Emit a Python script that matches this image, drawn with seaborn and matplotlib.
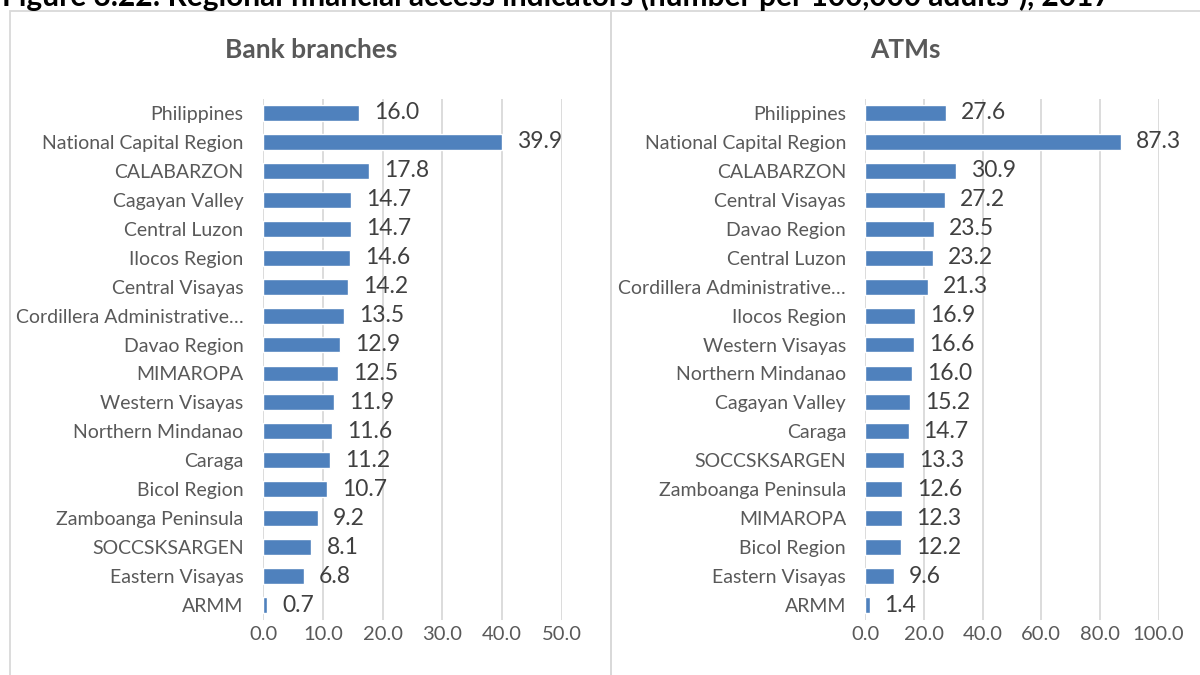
import matplotlib
matplotlib.use("Agg")
import matplotlib.pyplot as plt
import seaborn as sns
import pandas as pd
from matplotlib.patches import Rectangle

branch_regions = [
    "Philippines", "National Capital Region", "CALABARZON", "Cagayan Valley",
    "Central Luzon", "Ilocos Region", "Central Visayas",
    "Cordillera Administrative\u2026", "Davao Region", "MIMAROPA",
    "Western Visayas", "Northern Mindanao", "Caraga", "Bicol Region",
    "Zamboanga Peninsula", "SOCCSKSARGEN", "Eastern Visayas", "ARMM",
]
branch_values = [16.0, 39.9, 17.8, 14.7, 14.7, 14.6, 14.2, 13.5, 12.9, 12.5,
                 11.9, 11.6, 11.2, 10.7, 9.2, 8.1, 6.8, 0.7]

atm_regions = [
    "Philippines", "National Capital Region", "CALABARZON", "Central Visayas",
    "Davao Region", "Central Luzon", "Cordillera Administrative\u2026",
    "Ilocos Region", "Western Visayas", "Northern Mindanao", "Cagayan Valley",
    "Caraga", "SOCCSKSARGEN", "Zamboanga Peninsula", "MIMAROPA",
    "Bicol Region", "Eastern Visayas", "ARMM",
]
atm_values = [27.6, 87.3, 30.9, 27.2, 23.5, 23.2, 21.3, 16.9, 16.6, 16.0,
              15.2, 14.7, 13.3, 12.6, 12.3, 12.2, 9.6, 1.4]

branch_ticks = [0, 10, 20, 30, 40, 50]
atm_ticks = [0, 20, 40, 60, 80, 100]

title_text = "Figure 3.22: Regional financial access indicators (number per 100,000 adults\u00b9), 2017"

sns.set_theme(style="white")
plt.rcParams["font.family"] = ["Lato", "DejaVu Sans"]

BAR = "#4F81BD"
GRID = "#D9D9D9"
TXT = "#595959"
VAL = "#404040"

fig = plt.figure(figsize=(12, 6.75), dpi=100)
W, H = 1200, 675


def fx(px):
    return px / W


def fy(py):
    return 1 - py / H


# panel frames
for x0, x1 in [(10, 611), (611, 1210)]:
    fig.patches.append(Rectangle((fx(x0), fy(690)), fx(x1 - x0), (690 - 11) / H,
                                 transform=fig.transFigure, fill=False,
                                 edgecolor="#D9D9D9", linewidth=1.3))

fig.text(fx(2), fy(6), title_text, fontsize=21.5, fontweight="bold",
         color="black", ha="left", va="baseline")

panels = [
    ("Bank branches", branch_regions, branch_values, branch_ticks, 263, 562, 311),
    ("ATMs", atm_regions, atm_values, atm_ticks, 865.5, 1158.6, 905),
]

for title, regions, values, ticks, xl, xr, tx in panels:
    ax = fig.add_axes([fx(xl), fy(619.5), fx(xr - xl), (619.5 - 98.5) / H])
    df = pd.DataFrame({"region": regions, "value": values})
    sns.barplot(data=df, x="value", y="region", orient="h", color=BAR,
                saturation=1, width=0.55, ax=ax)
    ax.set_xlim(ticks[0], ticks[-1])
    ax.set_ylim(len(regions) - 0.5, -0.5)
    ax.set_xticks(ticks)
    ax.set_xticklabels([f"{t:.1f}" for t in ticks])
    ax.grid(axis="x", color=GRID, linewidth=1.3)
    ax.set_axisbelow(True)
    for s in ax.spines.values():
        s.set_visible(False)
    ax.set_xlabel("")
    ax.set_ylabel("")
    ax.tick_params(axis="y", length=0, pad=14, labelsize=14, labelcolor=TXT)
    ax.tick_params(axis="x", length=0, pad=5, labelsize=14.5, labelcolor=TXT)
    span = ticks[-1] - ticks[0]
    for i, v in enumerate(values):
        ax.text(v + span * 0.05, i, f"{v:.1f}", fontsize=16.5, color=VAL,
                ha="left", va="center", clip_on=False)
    fig.text(fx(tx), fy(50), title, fontsize=19, fontweight="bold",
             color=TXT, ha="center", va="center")

fig.savefig("out.png", dpi=100)
